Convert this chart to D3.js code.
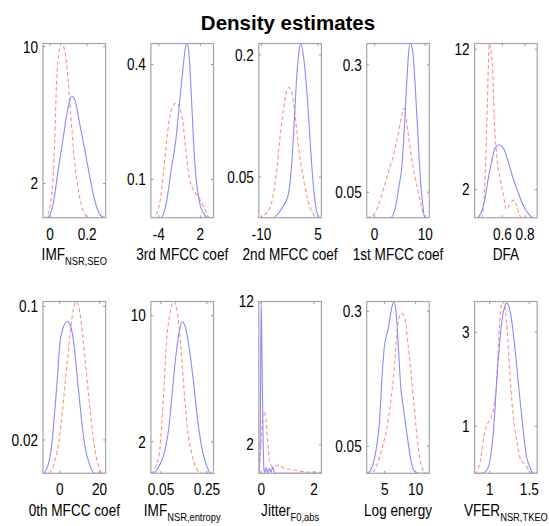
<!DOCTYPE html>
<html>
<head>
<meta charset="utf-8">
<script src="https://cdn.jsdelivr.net/npm/d3@7"></script>
<style>
  body { margin: 0; background: #fff; }
  text { font-family: "Liberation Sans", Arial, sans-serif; fill: #000; }
</style>
</head>
<body>
<script>
// ---- data ----
const titleText = "Density estimates";

const labelMain = ["IMF", "3rd MFCC coef", "2nd MFCC coef", "1st MFCC coef", "DFA",
                   "0th MFCC coef", "IMF", "Jitter", "Log energy", "VFER"];
const labelSub = ["NSR,SEO", "", "", "", "", "", "NSR,entropy", "F0,abs", "", "NSR,TKEO"];

const xLimits = [[-0.038, 0.30], [-5.14, 3.9], [-10.7, 5.9], [-1.55, 10.8], [0.356, 0.907],
                 [-8.4, 23], [0.006, 0.279], [-0.09, 2.28], [2.1, 12.2], [0.81, 1.60]];
const yMax = [10.19, 0.455, 0.214, 0.342, 12.41, 0.103, 10.9, 12, 0.318, 3.655];

const xTickVals = [[0, 0.2], [-4, 2], [-10, 5], [0, 10], [0.6, 0.8],
                   [0, 20], [0.05, 0.25], [0, 2], [5, 10], [1, 1.5]];
const yTickVals = [[2, 10], [0.1, 0.4], [0.05, 0.2], [0.05, 0.3], [2, 12],
                   [0.02, 0.1], [2, 10], [2, 12], [0.05, 0.3], [1, 3]];

// blue = solid, red = dashed; [x, density]
const imfSeoBlue = [[-0.038,0],[-0.015,0],[0.016,0.76],[0.043,2.72],[0.071,4.66],[0.094,6.23],[0.116,7.10],[0.134,6.90],[0.161,5.44],[0.189,3.89],[0.216,2.32],[0.243,0.96],[0.270,0.18],[0.297,0],[0.30,0]];
const imfSeoRed = [[-0.038,0],[-0.020,0.05],[0.007,1.15],[0.026,4.66],[0.034,7.59],[0.047,9.54],[0.061,10.19],[0.080,9.75],[0.098,7.99],[0.116,5.44],[0.134,3.10],[0.161,1.15],[0.189,0.18],[0.207,0.02],[0.23,0],[0.30,0]];

const mfcc3Blue = [[-5.14,0],[-3.68,0],[-2.96,0.034],[-2.24,0.121],[-1.51,0.208],[-1.04,0.295],[-0.55,0.382],[-0.17,0.443],[0.03,0.455],[0.32,0.435],[0.65,0.339],[0.99,0.208],[1.38,0.104],[1.85,0.043],[2.58,0.008],[3.07,0],[3.9,0]];
const mfcc3Red = [[-5.14,0],[-4.88,0],[-4.16,0.017],[-3.68,0.060],[-3.21,0.138],[-2.71,0.226],[-2.24,0.278],[-1.51,0.300],[-1.04,0.291],[-0.55,0.252],[-0.07,0.173],[0.41,0.104],[1.13,0.069],[1.85,0.051],[2.58,0.025],[3.30,0],[3.9,0]];

const mfcc2Blue = [[-10.7,0],[-6.87,0],[-5.09,0.008],[-3.77,0.018],[-2.89,0.028],[-1.99,0.065],[-1.30,0.118],[-0.66,0.172],[-0.05,0.204],[0.48,0.214],[1.09,0.200],[1.99,0.159],[2.86,0.098],[3.74,0.041],[4.64,0.008],[5.52,0],[5.9,0]];
const mfcc2Red = [[-10.7,0],[-10.4,0],[-9.07,0.004],[-7.75,0.012],[-6.87,0.028],[-5.97,0.057],[-5.09,0.098],[-4.22,0.131],[-3.32,0.155],[-2.71,0.160],[-1.99,0.155],[-1.11,0.127],[-0.24,0.090],[1.09,0.049],[2.41,0.020],[3.74,0.004],[4.64,0],[5.9,0]];

const mfcc1Blue = [[-1.55,0],[3.10,0],[4.09,0.019],[4.76,0.058],[5.42,0.104],[5.95,0.189],[6.40,0.274],[6.74,0.327],[7.06,0.342],[7.53,0.327],[8.04,0.255],[8.58,0.157],[9.03,0.078],[9.51,0.026],[9.90,0],[10.8,0]];
const mfcc1Red = [[-1.55,0],[-1.5,0],[-0.18,0.006],[0.81,0.026],[1.80,0.058],[2.79,0.091],[3.77,0.124],[4.62,0.163],[5.28,0.196],[5.75,0.215],[6.21,0.196],[6.74,0.157],[7.39,0.111],[8.18,0.071],[9.03,0.032],[9.70,0.006],[10.16,0],[10.8,0]];

const dfaBlue = [[0.356,0],[0.374,0],[0.418,0.46],[0.448,1.40],[0.477,2.83],[0.507,4.02],[0.536,4.96],[0.574,5.20],[0.609,4.96],[0.650,4.04],[0.694,2.83],[0.738,1.83],[0.782,0.90],[0.826,0.33],[0.870,0.01],[0.907,0]];
const dfaRed = [[0.356,0],[0.418,0],[0.439,1.40],[0.456,4.49],[0.468,8.05],[0.477,10.9],[0.485,12.41],[0.500,11.85],[0.515,10.43],[0.530,6.87],[0.545,4.96],[0.559,3.77],[0.580,2.83],[0.609,1.64],[0.633,0.6],[0.660,0.85],[0.690,1.2],[0.705,1.25],[0.727,0.85],[0.750,0.21],[0.771,0],[0.907,0]];

const mfcc0Blue = [[-8.4,0],[-8.35,0],[-5.85,0.005],[-3.85,0.019],[-2.5,0.037],[-1.2,0.057],[0,0.077],[1.65,0.087],[3.8,0.091],[5.5,0.088],[7.15,0.077],[8.8,0.057],[10.5,0.037],[12.5,0.017],[15.0,0.005],[17.5,0],[23,0]];
const mfcc0Red = [[-8.4,0],[-5.85,0],[-2.5,0.007],[0,0.023],[1.65,0.041],[3.3,0.061],[5.0,0.081],[6.65,0.097],[8.3,0.103],[10.0,0.097],[11.65,0.081],[13.3,0.061],[15.0,0.041],[16.65,0.023],[18.8,0.007],[21.65,0],[23,0]];

const imfEntBlue = [[0.006,0],[0.015,0],[0.044,0.53],[0.066,1.37],[0.084,2.86],[0.098,4.97],[0.112,7.08],[0.127,8.76],[0.142,9.62],[0.156,9.30],[0.171,8.14],[0.190,6.03],[0.209,3.49],[0.226,1.80],[0.248,0.53],[0.270,0],[0.279,0]];
const imfEntRed = [[0.006,0],[0.008,0],[0.029,0.53],[0.044,1.37],[0.054,3.27],[0.063,5.39],[0.073,8.14],[0.088,10.04],[0.107,10.9],[0.121,10.25],[0.136,8.14],[0.150,5.39],[0.165,2.86],[0.182,1.37],[0.204,0.32],[0.226,0],[0.279,0]];

const jitterBlue = [[-0.09,0],[-0.06,0],[-0.03,4],[0.0,12],[0.045,6],[0.10,0.4],[0.13,0],[0.19,0.4],[0.25,0],[0.31,0.35],[0.37,0.05],[0.44,0.45],[0.50,0.05],[0.56,0],[2.28,0]];
const jitterRed = [[-0.09,0.3],[-0.023,1.5],[0.027,3.14],[0.065,4.1],[0.114,4.3],[0.19,3.6],[0.254,2.0],[0.319,0.8],[0.444,0.44],[0.634,0.58],[0.888,0.35],[1.27,0.23],[1.65,0.1],[2.03,0.08],[2.28,0.07]];

const logEnBlue = [[2.1,0],[2.17,0],[2.97,0.012],[3.65,0.046],[4.17,0.096],[4.56,0.176],[4.92,0.231],[5.60,0.269],[6.14,0.306],[6.51,0.318],[6.83,0.299],[7.19,0.238],[7.57,0.164],[8.10,0.114],[8.62,0.071],[9.16,0.028],[9.84,0.003],[10.37,0],[12.2,0]];
const logEnRed = [[2.1,0],[2.70,0],[3.76,0.015],[4.56,0.046],[5.35,0.083],[5.98,0.133],[6.40,0.176],[6.83,0.238],[7.19,0.281],[7.73,0.296],[8.25,0.287],[8.78,0.238],[9.32,0.176],[9.84,0.114],[10.37,0.052],[10.90,0.015],[11.70,0],[12.2,0]];

const vferBlue = [[0.81,0],[0.901,0],[0.965,0.07],[1.015,0.39],[1.057,1.10],[1.091,2.02],[1.124,2.73],[1.154,3.23],[1.184,3.51],[1.218,3.62],[1.259,3.44],[1.301,2.94],[1.344,2.23],[1.377,1.67],[1.420,0.96],[1.462,0.39],[1.513,0.11],[1.554,0],[1.60,0]];
const vferRed = [[0.81,0],[0.816,0],[0.880,0.25],[0.930,0.81],[0.965,1.03],[1.015,1.17],[1.057,1.45],[1.091,2.02],[1.111,2.73],[1.133,3.37],[1.167,3.655],[1.196,3.51],[1.225,2.94],[1.259,2.02],[1.301,1.17],[1.344,0.67],[1.386,0.32],[1.449,0.18],[1.513,0.03],[1.554,0],[1.60,0]];

const blueCurves = [imfSeoBlue, mfcc3Blue, mfcc2Blue, mfcc1Blue, dfaBlue,
                    mfcc0Blue, imfEntBlue, jitterBlue, logEnBlue, vferBlue];
const redCurves = [imfSeoRed, mfcc3Red, mfcc2Red, mfcc1Red, dfaRed,
                   mfcc0Red, imfEntRed, jitterRed, logEnRed, vferRed];

// ---- layout ----
const width = 549, height = 526;
const left0 = 43, colStep = 107.9, boxW = 62.6;
const rowTop = [43.5, 301.5], rowBottom = [217.7, 473.3];
const tickLen = 2.5;
const squeeze = 0.85;   // the picture's text is narrow for its height

const svg = d3.select("body").append("svg")
    .attr("width", width)
    .attr("height", height);

// text placed at (x, y) then squeezed horizontally around its anchor
function addText(parent, x, y, str, size, anchor) {
    return parent.append("text")
        .attr("transform", "translate(" + x + "," + y + ") scale(" + squeeze + ",1)")
        .attr("text-anchor", anchor)
        .style("font-size", size + "px")
        .text(str);
}

svg.append("text")
    .attr("x", 288)
    .attr("y", 29.5)
    .attr("text-anchor", "middle")
    .style("font-size", "20.5px")
    .style("font-weight", "bold")
    .text(titleText);

for (let i = 0; i < 10; i++) {
    const row = Math.floor(i / 5), col = i % 5;
    const x0 = left0 + col * colStep, x1 = x0 + boxW;
    const y0 = rowTop[row], y1 = rowBottom[row];

    const x = d3.scaleLinear().domain(xLimits[i]).range([x0, x1]);
    const y = d3.scaleLinear().domain([0, yMax[i]]).range([y1, y0]);

    const g = svg.append("g");

    g.append("clipPath").attr("id", "clip" + i)
        .append("rect")
        .attr("x", x0).attr("y", y0 - 1)
        .attr("width", boxW).attr("height", y1 - y0 + 1);

    const line = d3.line()
        .x(d => x(d[0]))
        .y(d => y(d[1]))
        .curve(d3.curveMonotoneX);

    g.append("path")
        .datum(redCurves[i])
        .attr("clip-path", "url(#clip" + i + ")")
        .attr("d", line)
        .attr("fill", "none")
        .attr("stroke", "#ff8f8f")
        .attr("stroke-width", 1.1)
        .attr("stroke-dasharray", "4,2.5");

    g.append("path")
        .datum(blueCurves[i])
        .attr("clip-path", "url(#clip" + i + ")")
        .attr("d", line)
        .attr("fill", "none")
        .attr("stroke", "#8a8aff")
        .attr("stroke-width", 1.1);

    // box
    g.append("rect")
        .attr("x", x0).attr("y", y0)
        .attr("width", boxW).attr("height", y1 - y0)
        .attr("fill", "none")
        .attr("stroke", "#a6a6a6")
        .attr("stroke-width", 1.2);

    // ticks on all four sides, pointing in
    xTickVals[i].forEach(v => {
        g.append("line").attr("x1", x(v)).attr("x2", x(v))
            .attr("y1", y1).attr("y2", y1 - tickLen).attr("stroke", "#999");
        g.append("line").attr("x1", x(v)).attr("x2", x(v))
            .attr("y1", y0).attr("y2", y0 + tickLen).attr("stroke", "#999");
        addText(g, x(v), y1 + 22, String(v), 16, "middle");
    });
    yTickVals[i].forEach(v => {
        g.append("line").attr("x1", x0).attr("x2", x0 + tickLen)
            .attr("y1", y(v)).attr("y2", y(v)).attr("stroke", "#999");
        g.append("line").attr("x1", x1).attr("x2", x1 - tickLen)
            .attr("y1", y(v)).attr("y2", y(v)).attr("stroke", "#999");
        addText(g, x0 - 5, y(v) + 5.8, String(v), 16, "end");
    });

    // x label with optional subscript
    const lab = addText(g, (x0 + x1) / 2, y1 + 42.5, "", 16, "middle");
    lab.append("tspan").text(labelMain[i]);
    if (labelSub[i]) {
        lab.append("tspan").attr("dy", 5).style("font-size", "11px").text(labelSub[i]);
    }
}
</script>
</body>
</html>
